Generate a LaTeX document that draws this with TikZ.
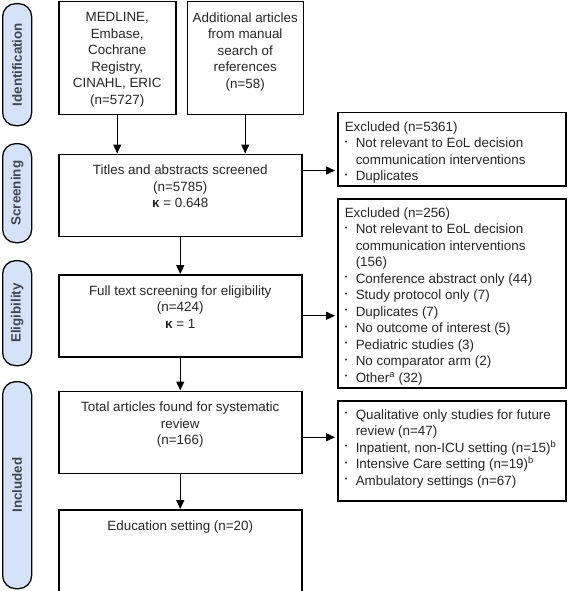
\documentclass[tikz,border=0pt]{standalone}
\usepackage{fontspec}
\setmainfont{Liberation Sans}
\usetikzlibrary{arrows.meta,positioning}
\definecolor{phaseblue}{RGB}{214,226,247}
\definecolor{phasetext}{RGB}{66,70,82}
\tikzset{
    box/.style={draw, line width=1.5pt, inner sep=0pt, anchor=north west, text=black!85, font=\fontsize{13.4}{16.5}\selectfont},
    phase/.style={draw, line width=1.3pt, fill=phaseblue, rounded corners=13pt, minimum width=29pt, inner sep=0pt, anchor=north west, text=phasetext, font=\fontsize{13.4}{15}\selectfont\bfseries},
    line/.style={draw, line width=1.4pt, -{Triangle[length=9pt,width=8pt]}}
}
\newcommand{\boxtext}[3]{\parbox[c][#2][t]{#1}{\centering\vspace*{11pt}#3}}
\newcommand{\listtext}[3]{\parbox[c][#2][t]{#1}{\raggedright\vspace*{9pt}\hspace*{7pt}#3}}
\newcommand{\itm}{\makebox[11pt][l]{\raisebox{3.5pt}{\scalebox{0.55}{\textbullet}}}}
\newcommand{\cnt}{\hspace*{18pt}}
\newcommand{\frst}{\hspace*{7pt}}

\begin{document}
\begin{tikzpicture}[x=1pt, y=1pt]
    \useasboundingbox (0,0) rectangle (567,-591);
    % Phase labels
    \node [phase, minimum height=122pt] (ident) at (2,-3) {\rotatebox{90}{Identification}};
    \node [phase, minimum height=99pt] (screen) at (2,-143) {\rotatebox{90}{Screening}};
    \node [phase, minimum height=105pt] (elig) at (2,-260) {\rotatebox{90}{Eligibility}};
    \node [phase, minimum height=207pt] (incl) at (2,-381) {\rotatebox{90}{Included}};

    % Identification
    \node [box] (medline) at (58,-1) {\boxtext{117pt}{113pt}{MEDLINE,\\Embase,\\Cochrane\\Registry,\\CINAHL, ERIC\\(n=5727)}};
    \node [box, right=10pt of medline.north east, anchor=north west] (manual) {\boxtext{116pt}{113pt}{Additional articles\\from manual\\search of\\references\\(n=58)}};

    % Screening, eligibility, included
    \node [box, below=38pt of medline.south west, anchor=north west] (titles) {\boxtext{243pt}{82pt}{Titles and abstracts screened\\(n=5785)\\\textbf{κ} = 0.648}};
    \node [box, below=37pt of titles.south west, anchor=north west] (fulltext) {\boxtext{243pt}{82pt}{Full text screening for eligibility\\(n=424)\\\textbf{κ} = 1}};
    \node [box, below=33pt of fulltext.south west, anchor=north west] (total) {\boxtext{243pt}{82pt}{Total articles found for systematic\\review\\(n=166)}};
    \node [box, below=35pt of total.south west, anchor=north west] (educ) {\boxtext{243pt}{87pt}{Education setting (n=20)}};

    % Exclusions
    \node [box] (excl1) at (337,-112) {\listtext{228pt}{73pt}{Excluded (n=5361)\\
        \frst\itm Not relevant to EoL decision\\
        \cnt communication interventions\\
        \frst\itm Duplicates}};
    \node [box] (excl2) at (337,-198) {\listtext{228pt}{189pt}{Excluded (n=256)\\
        \frst\itm Not relevant to EoL decision\\
        \cnt communication interventions\\
        \cnt (156)\\
        \frst\itm Conference abstract only (44)\\
        \frst\itm Study protocol only (7)\\
        \frst\itm Duplicates (7)\\
        \frst\itm No outcome of interest (5)\\
        \frst\itm Pediatric studies (3)\\
        \frst\itm No comparator arm (2)\\
        \frst\itm Other\textsuperscript{a} (32)}};
    \node [box] (excl3) at (337,-400) {\listtext{228pt}{100pt}{\itm Qualitative only studies for future\\
        \cnt review (n=47)\\
        \frst\itm Inpatient, non-ICU setting (n=15)\textsuperscript{b}\\
        \frst\itm Intensive Care setting (n=19)\textsuperscript{b}\\
        \frst\itm Ambulatory settings (n=67)}};

    % Connections
    \path [line] (medline.south) -- (medline.south |- titles.north);
    \path [line] (manual.south) -- (manual.south |- titles.north);
    \path [line] (titles) -- (fulltext);
    \path [line] (fulltext) -- (total);
    \path [line] (total) -- (educ);
    \path [line, shorten >=2pt] ([yshift=-17pt]titles.north east) -- ([yshift=-17pt]titles.north east -| excl1.west);
    \path [line, shorten >=2pt] (fulltext.east) -- (fulltext.east -| excl2.west);
    \path [line, shorten >=2pt] ([yshift=-5pt]total.east) -- ([yshift=-5pt]total.east -| excl3.west);
\end{tikzpicture}
\end{document}
